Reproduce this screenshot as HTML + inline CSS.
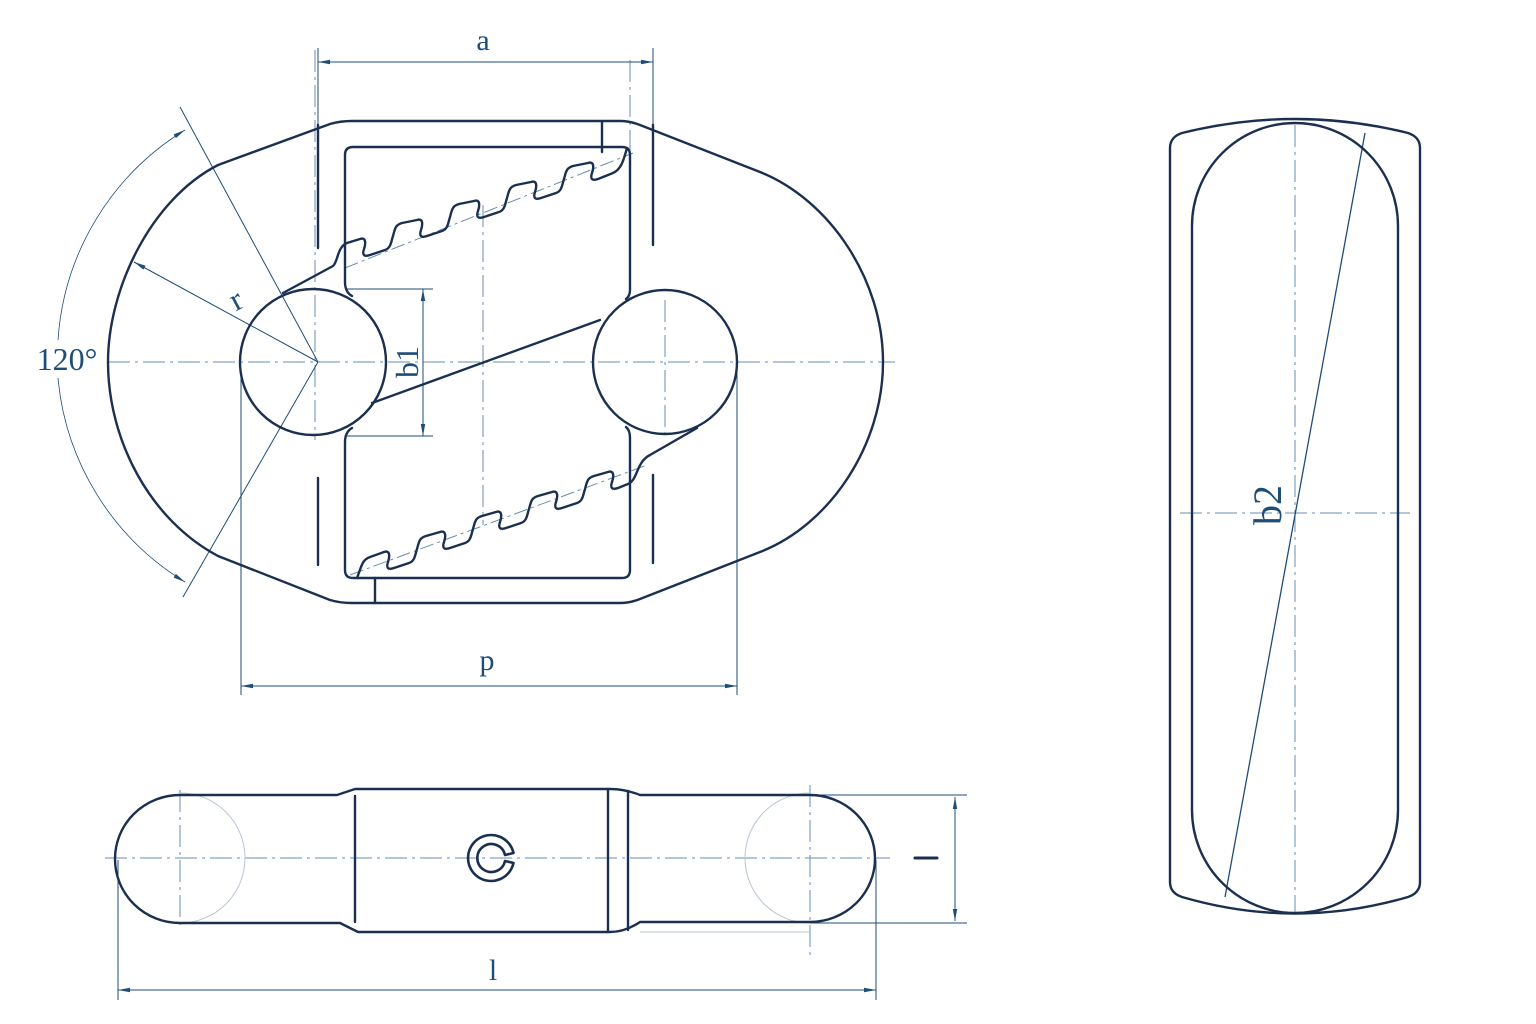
<!DOCTYPE html>
<html><head><meta charset="utf-8"><style>
html,body{margin:0;padding:0;background:#fff;}
svg{display:block;}
</style></head><body>
<svg width="1536" height="1024" viewBox="0 0 1536 1024" xmlns="http://www.w3.org/2000/svg">
<defs>
<marker id="ar" viewBox="0 0 12 6" refX="12" refY="3" markerWidth="12" markerHeight="6" orient="auto-start-reverse" markerUnits="userSpaceOnUse">
<path d="M0,0.8 L12,3 L0,5.2 Z" fill="#1e4d78"/></marker>
</defs>
<rect width="1536" height="1024" fill="#fff"/>

<g stroke="#6a8fb0" stroke-width="1" fill="none" stroke-dasharray="22,5,3,5">
<line x1="108" y1="362" x2="895" y2="362"/>
<line x1="315" y1="50" x2="315" y2="440"/>
<line x1="665" y1="300" x2="665" y2="440"/>
<line x1="630" y1="60" x2="630" y2="300"/>
<line x1="483" y1="205" x2="483" y2="525"/>
<line x1="345" y1="268" x2="633" y2="153" stroke-dasharray="14,4,3,4"/>
<line x1="350" y1="575" x2="647" y2="465" stroke-dasharray="14,4,3,4"/>
<line x1="105" y1="858" x2="890" y2="858"/>
<line x1="180" y1="790" x2="180" y2="930"/>
<line x1="810" y1="785" x2="810" y2="960"/>
<line x1="1295" y1="125" x2="1295" y2="912"/>
<line x1="1180" y1="513" x2="1410" y2="513"/>
</g>

<g stroke="#1e4d78" stroke-width="1" fill="none">
<line x1="318" y1="48" x2="318" y2="125"/>
<line x1="653" y1="48" x2="653" y2="125"/>
<line x1="318" y1="62" x2="653" y2="62" marker-start="url(#ar)" marker-end="url(#ar)"/>
<line x1="241" y1="370" x2="241" y2="695"/>
<line x1="737" y1="370" x2="737" y2="695"/>
<line x1="241" y1="686" x2="737" y2="686" marker-start="url(#ar)" marker-end="url(#ar)"/>
<line x1="345" y1="289" x2="433" y2="289"/>
<line x1="345" y1="436" x2="433" y2="436"/>
<line x1="423" y1="289" x2="423" y2="436" marker-start="url(#ar)" marker-end="url(#ar)"/>
<line x1="318" y1="362" x2="180" y2="107"/>
<line x1="318" y1="362" x2="183" y2="597"/>
<line x1="318" y1="362" x2="134" y2="262" marker-end="url(#ar)"/>
<path d="M185,130 A267,267 0 0 0 58,340" stroke-width="0.8" marker-start="url(#ar)"/>
<path d="M58,378 A267,267 0 0 0 185,582" stroke-width="0.8" marker-end="url(#ar)"/>
<line x1="810" y1="795" x2="967" y2="795"/>
<line x1="810" y1="923" x2="967" y2="923"/>
<line x1="955" y1="797" x2="955" y2="921" marker-start="url(#ar)" marker-end="url(#ar)"/>
<line x1="118" y1="860" x2="118" y2="1000"/>
<line x1="876" y1="860" x2="876" y2="1000"/>
<line x1="118" y1="990" x2="876" y2="990" marker-start="url(#ar)" marker-end="url(#ar)"/>
<line x1="1365" y1="133" x2="1225" y2="897" stroke-width="1.3"/>
</g>
<g stroke="#b8c6d4" stroke-width="1" fill="none">
<path d="M180,793 A65,65 0 0 1 180,923"/>
<path d="M810,793 A65,65 0 0 0 810,923"/>
<line x1="640" y1="932" x2="810" y2="932"/>
</g>

<g stroke="#1b3050" stroke-width="2.4" fill="none" stroke-linejoin="round" stroke-linecap="round">
<path d="M218,165 L330,124 Q340,121 352,121 L620,121 Q630,121 640,125 L760,172 C830,200 883,280 883,362 C883,445 830,525 760,552 L640,599 Q630,603 620,603 L352,603 Q340,603 330,600 L218,556 C150,520 108,440 108,362 C108,290 150,200 218,165 Z"/>
<circle cx="313" cy="362" r="73"/>
<circle cx="665" cy="362" r="72"/>
<path d="M352,296 Q345,292 345,282 L345,155 Q345,147 353,147 L622,147 Q630,147 630,155 L630,290 Q630,296 626,299"/>
<path d="M352,428 Q345,432 345,442 L345,570 Q345,578 353,578 L622,578 Q630,578 630,570 L630,438 Q630,430 626,427"/>
<line x1="372" y1="403" x2="600" y2="320"/>
<path d="M283,293 L333,266 C338,262 337,247 347,243 L360,239
C366,237 366,243 364,249 C362,255 364,257 370,255 L385,250 C391,248 391,242 393,236 C395,229 395,225 402,223 L417,220
C423,218 423,224 421,230 C419,236 421,238 427,236 L442,231 C448,229 448,223 450,217 C452,210 452,206 459,204 L474,201
C480,199 480,205 478,211 C476,217 478,219 484,217 L499,212 C505,210 505,204 507,198 C509,191 509,187 516,185 L531,182
C537,180 537,186 535,192 C533,198 535,200 541,198 L556,193 C562,191 562,185 564,179 C566,172 566,168 573,166 L588,163
C594,161 594,167 592,173 C590,179 592,181 598,179 L613,173 C622,169 624,158 627,148"/>
<path d="M357,578 C362,565 362,560 370,557 L384,552
C390,550 390,556 388,562 C386,568 388,570 394,568 L409,563 C415,561 415,555 417,549 C419,542 419,538 426,536 L440,532
C446,530 446,536 444,542 C442,548 444,550 450,548 L465,543 C471,541 471,535 473,529 C475,522 475,518 482,516 L496,512
C502,510 502,516 500,522 C498,528 500,530 506,528 L521,523 C527,521 527,515 529,509 C531,502 531,498 538,496 L552,492
C558,490 558,496 556,502 C554,508 556,510 562,508 L577,503 C583,501 583,495 585,489 C587,482 587,478 594,476 L608,472
C614,470 614,476 612,482 C610,488 612,490 618,488 L628,484 C638,480 636,462 650,455 L697,428"/>
<line x1="318" y1="125" x2="318" y2="248"/>
<line x1="653" y1="125" x2="653" y2="245"/>
<line x1="318" y1="478" x2="318" y2="565"/>
<line x1="653" y1="475" x2="653" y2="563"/>
<line x1="602" y1="122" x2="602" y2="152"/>
<line x1="375" y1="578" x2="375" y2="603"/>

<path d="M180,795 L337,795 L355,789 L610,789 Q625,789 640,795 L810,795 A65,63.5 0 0 1 810,922 L640,922 Q625,932 610,932 L358,932 L340,923 L180,923 A65,64 0 0 1 180,795 Z"/>
<line x1="355" y1="796" x2="355" y2="922"/>
<line x1="608" y1="789" x2="608" y2="932"/>
<line x1="628" y1="791" x2="628" y2="930"/>
<path d="M513.5,853 A23,23 0 1 0 513.5,863 L505,861 A14,14 0 1 1 505,855 Z" stroke-width="2.6"/>
<line x1="915" y1="858" x2="937" y2="858" stroke-width="3"/>

<path d="M1170,148 Q1170,137 1182,133 Q1295,105 1408,133 Q1420,137 1420,148 L1420,882 Q1420,893 1408,897 Q1295,930 1182,897 Q1170,893 1170,882 Z"/>
<path d="M1192,226 A103,103 0 0 1 1398,226 L1398,810 A103,103 0 0 1 1192,810 Z"/>
</g>

<g fill="#1e4d78" font-family="Liberation Serif, serif">
<text x="483" y="50" font-size="30" text-anchor="middle">a</text>
<text x="487" y="670" font-size="30" text-anchor="middle">p</text>
<text x="493" y="980" font-size="30" text-anchor="middle">l</text>
<text x="67" y="370" font-size="32" text-anchor="middle">120°</text>
<text x="236" y="310" font-size="32" text-anchor="middle" transform="rotate(-28 236 300)">r</text>
<text x="0" y="0" font-size="32" text-anchor="middle" transform="translate(418 362) rotate(-90)">b1</text>
<text x="0" y="0" font-size="40" text-anchor="middle" transform="translate(1281 505) rotate(-90)">b2</text>
</g>
</svg>
</body></html>
